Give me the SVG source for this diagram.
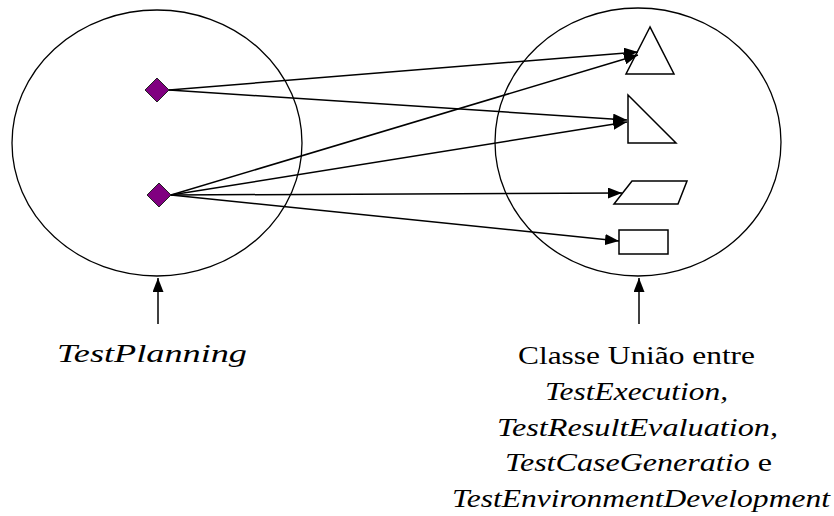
<svg xmlns="http://www.w3.org/2000/svg" width="834" height="516" viewBox="0 0 834 516">
<style>
.c{fill:none;stroke:#000;stroke-width:1.3}
.s{fill:#fff;stroke:#000;stroke-width:1.5}
.d{fill:#800080;stroke:#222;stroke-width:1}
.l{fill:none;stroke:#000;stroke-width:1.5;marker-end:url(#ah)}
.t{font-size:25px;fill:#000}
.i{font-style:italic}
</style>
<defs>
<marker id="ah" viewBox="0 0 14 11" refX="14" refY="5.5" markerWidth="14" markerHeight="11" markerUnits="userSpaceOnUse" orient="auto">
<path d="M0,0 L14,5.5 L0,11 Z" fill="#000"/>
</marker>
</defs>
<rect width="834" height="516" fill="#fff"/>
<g id="testplanning">
<ellipse class="c" cx="157" cy="143" rx="145" ry="133"/>
<polygon class="d" points="157,78 169,90 157,102 145,90"/>
<polygon class="d" points="159,183 171,195 159,207 147,195"/>
</g>
<g id="uniao">
<ellipse class="c" cx="638" cy="142" rx="143" ry="134"/>
<polygon class="s" points="650,27 626,74 674,74"/>
<polygon class="s" points="628,95 628,143 676,143"/>
<polygon class="s" points="632,181 687,181 678,204 614,204"/>
<rect class="s" x="619" y="230" width="49" height="24"/>
</g>
<g id="connectors">
<line class="l" x1="169" y1="90" x2="638" y2="52"/>
<line class="l" x1="169" y1="90" x2="627" y2="120"/>
<line class="l" x1="171" y1="195" x2="638" y2="55"/>
<line class="l" x1="171" y1="195" x2="627" y2="122"/>
<line class="l" x1="171" y1="195" x2="622" y2="193"/>
<line class="l" x1="171" y1="195" x2="619" y2="241"/>
<line class="l" x1="158" y1="324" x2="158" y2="278"/>
<line class="l" x1="639" y1="324" x2="639" y2="278"/>
</g>
<g id="labels" font-family="Liberation Serif, Times New Roman, serif">
<text class="t i" x="57" y="362" textLength="190" lengthAdjust="spacingAndGlyphs">TestPlanning</text>
<text class="t" x="518" y="364" textLength="237" lengthAdjust="spacingAndGlyphs">Classe União entre</text>
<text class="t i" x="545" y="400" textLength="183" lengthAdjust="spacingAndGlyphs">TestExecution,</text>
<text class="t i" x="497" y="436" textLength="281" lengthAdjust="spacingAndGlyphs">TestResultEvaluation,</text>
<text class="t" x="505" y="471" textLength="267" lengthAdjust="spacingAndGlyphs"><tspan class="i">TestCaseGeneratio</tspan> e</text>
<text class="t i" x="452" y="507" textLength="378" lengthAdjust="spacingAndGlyphs">TestEnvironmentDevelopment</text>
</g>
</svg>
